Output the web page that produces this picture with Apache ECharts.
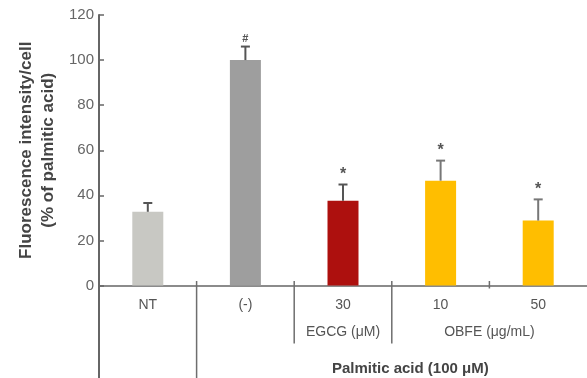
<!DOCTYPE html>
<html>
<head>
<meta charset="utf-8">
<script src="https://cdn.jsdelivr.net/npm/echarts@6/dist/echarts.min.js"></script>
<style>
  html, body { margin: 0; padding: 0; background: #fff; }
  #chart { width: 587px; height: 378px; }
</style>
</head>
<body>
<div id="chart"></div>
<script>
// Treatment groups and measurements (mean ± SD, % of palmitic acid)
var categories = ['NT', '(-)', '30', '10', '50'];
var means = [32.7, 100, 37.6, 46.5, 28.8];
var errors = [3.9, 6, 7.2, 8.9, 9.4];
var marks = ['', '#', '*', '*', '*'];
var barColors = ['#c8c8c3', '#9e9e9e', '#ad100e', '#ffbe00', '#ffbe00'];
var yTicks = [0, 20, 40, 60, 80, 100, 120];

var FONT = '"Liberation Sans", Arial, sans-serif';
var AXIS = '#666';

var chart = echarts.init(document.getElementById('chart'), null, { renderer: 'canvas' });

chart.setOption({
  animation: false,
  grid: { left: 99, right: 0, top: 15, bottom: 92.5, containLabel: false, outerBoundsMode: 'none' },
  xAxis: {
    type: 'category',
    data: categories,
    axisLine: { lineStyle: { color: AXIS, width: 1.5 } },
    axisTick: { show: false },
    axisLabel: { color: '#555', fontSize: 14, fontFamily: FONT, margin: 13 }
  },
  yAxis: {
    type: 'value',
    min: yTicks[0],
    max: yTicks[yTicks.length - 1],
    interval: 20,
    splitLine: { show: false },
    axisLine: { show: true, lineStyle: { color: AXIS, width: 2 } },
    axisTick: { show: true, inside: true, length: 5, lineStyle: { color: AXIS, width: 1.5 } },
    axisLabel: { color: '#666', fontSize: 15, fontFamily: FONT, margin: 5 },
    name: 'Fluorescence intensity/cell\n(% of palmitic acid)',
    nameLocation: 'middle',
    nameRotate: 90,
    nameGap: 39,
    nameMoveOverlap: false,
    nameTextStyle: { color: '#444', fontSize: 17, fontWeight: 'bold', fontFamily: FONT, lineHeight: 22.5 }
  },
  series: [
    {
      type: 'bar',
      barWidth: 31,
      data: means.map(function (v, i) {
        return { value: v, itemStyle: { color: barColors[i] } };
      })
    },
    {
      // error bars with significance marks
      type: 'custom',
      data: means.map(function (v, i) { return [i, v, errors[i], marks[i]]; }),
      renderItem: function (params, api) {
        var i = api.value(0);
        var base = api.coord([i, api.value(1)]);
        var top = api.coord([i, api.value(1) + api.value(2)]);
        var col = i >= 3 ? '#777' : '#555';
        var children = [
          { type: 'line', shape: { x1: base[0], y1: base[1], x2: top[0], y2: top[1] },
            style: { stroke: col, lineWidth: 2 } },
          { type: 'line', shape: { x1: top[0] - 4.5, y1: top[1], x2: top[0] + 4.5, y2: top[1] },
            style: { stroke: col, lineWidth: 2 } }
        ];
        var m = marks[params.dataIndex];
        if (m) {
          children.push({ type: 'text', x: top[0], y: top[1] - 2,
            style: { text: m, fill: '#555', font: 'bold ' + (m === '#' ? 11 : 16) + 'px ' + FONT,
              textAlign: 'center', textVerticalAlign: 'bottom' } });
        }
        return { type: 'group', children: children };
      },
      z: 3
    },
    {
      // group dividers and labels below the category axis
      type: 'custom',
      data: [0],
      clip: false,
      renderItem: function (params, api) {
        var band = api.size([1, 0])[0];
        var axisY = api.coord([0, 0])[1];
        var bottom = api.getHeight();
        function edge(k) { return api.coord([k, 0])[0] - band / 2; }
        var c = [];
        var depth = [bottom, bottom, axisY + 58, axisY + 58, axisY + 3];
        for (var k = 0; k < 5; k++) {
          c.push({ type: 'line',
            shape: { x1: edge(k), y1: axisY - 4.5, x2: edge(k), y2: depth[k] },
            style: { stroke: k === 0 ? AXIS : '#6e6e6e', lineWidth: k === 0 ? 2 : 1.5 } });
        }
        var textStyle = function (t, x, y, bold) {
          return { type: 'text', x: x, y: y,
            style: { text: t, fill: bold ? '#444' : '#555',
              font: (bold ? 'bold 15px ' : '14px ') + FONT,
              textAlign: 'center', textVerticalAlign: 'middle' } };
        };
        c.push(textStyle('EGCG (\u03bcM)', api.coord([2, 0])[0], axisY + 47, false));
        c.push(textStyle('OBFE (\u03bcg/mL)', edge(4), axisY + 47, false));
        c.push(textStyle('Palmitic acid (100 \u03bcM)', api.coord([2, 0])[0] + band * 0.69, axisY + 83, true));
        return { type: 'group', children: c };
      },
      z: 1
    }
  ]
});
</script>
</body>
</html>
